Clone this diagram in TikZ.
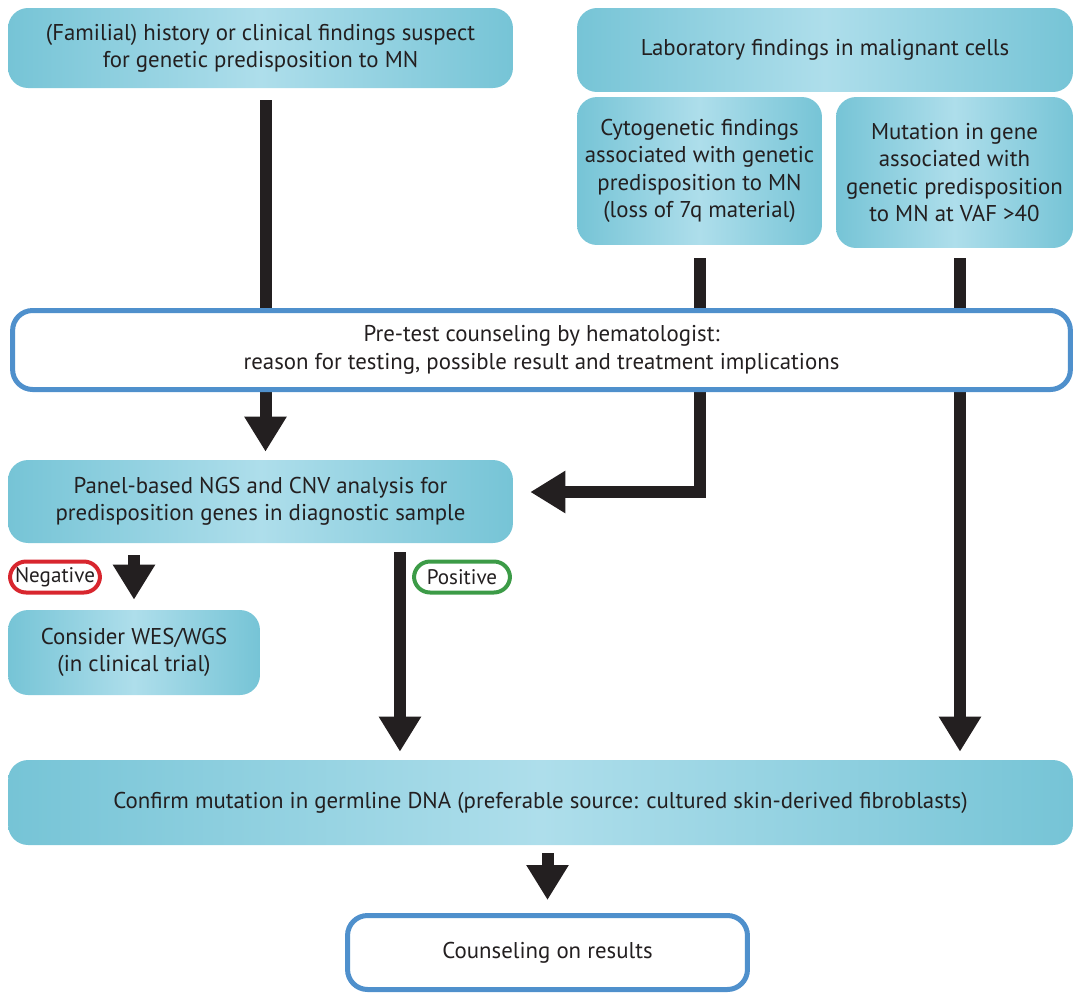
\documentclass[tikz,border=0pt]{standalone}
\usepackage{fontspec}
\setmainfont{PT Sans}
\usetikzlibrary{arrows.meta,backgrounds}

\definecolor{boxedge}{HTML}{76C4D6}
\definecolor{boxmid}{HTML}{AEDEEB}
\definecolor{frameblue}{HTML}{4F90CC}
\definecolor{arrowgray}{HTML}{231F20}
\definecolor{negred}{HTML}{D8262E}
\definecolor{posgreen}{HTML}{3C9B47}

\tikzset{
    cyanbox/.style={rounded corners=0.4cm, left color=boxedge, right color=boxedge, middle color=boxmid,
        align=center, inner sep=0pt, text=arrowgray, font=\fontsize{13}{15.6}\selectfont},
    framebox/.style={rounded corners=0.4cm, draw=frameblue, line width=0.1cm, fill=white,
        align=center, inner sep=0pt, text=arrowgray, font=\fontsize{13}{15.6}\selectfont},
    pill/.style={rounded corners=0.32cm, line width=0.08cm, fill=white, inner sep=0pt,
        minimum height=0.62cm, text=arrowgray, font=\fontsize{12}{14}\selectfont},
    arr/.style={line width=0.24cm, draw=arrowgray, -{Triangle[width=0.8cm,length=0.7cm]}},
}

\begin{document}
\begin{tikzpicture}[x=0.02cm,y=-0.02cm]

    \useasboundingbox (0,0) rectangle (1079,995);

    \node[cyanbox, minimum width=10.1cm, minimum height=1.6cm] (hist) at (260.5,48)
        {(Familial) history or clinical findings suspect\\for genetic predisposition to MN};
    \node[cyanbox, minimum width=9.92cm, minimum height=1.68cm] (lab) at (825,50)
        {Laboratory findings in malignant cells};
    \node[cyanbox, minimum width=4.9cm, minimum height=2.96cm] (cyto) at (699.5,171)
        {Cytogenetic findings\\associated with genetic\\predisposition to MN\\(loss of 7q material)};
    \node[cyanbox, minimum width=4.74cm, minimum height=3.02cm] (mut) at (954.5,172.5)
        {Mutation in gene\\associated with\\genetic predisposition\\to MN at VAF >40};

    \node[framebox, minimum width=21.16cm, minimum height=1.58cm] (pretest) at (541.5,350)
        {Pre-test counseling by hematologist:\\reason for testing, possible result and treatment implications};

    \node[cyanbox, minimum width=10.1cm, minimum height=1.66cm] (panel) at (260.5,501.5)
        {Panel-based NGS and CNV analysis for\\predisposition genes in diagnostic sample};
    \node[pill, draw=negred, minimum width=1.8cm] (neg) at (55,577) {Negative};
    \node[pill, draw=posgreen, minimum width=1.92cm] (pos) at (462,577) {Positive};
    \node[cyanbox, minimum width=5.04cm, minimum height=1.7cm] (wes) at (134,652.5)
        {Consider WES/WGS\\(in clinical trial)};

    \node[cyanbox, minimum width=21.3cm, minimum height=1.7cm] (germ) at (540.5,802.5)
        {Confirm mutation in germline DNA (preferable source: cultured skin-derived fibroblasts)};
    \node[framebox, minimum width=8cm, minimum height=1.48cm] (result) at (547.5,952.5)
        {Counseling on results};

    %arrows
    \begin{scope}[on background layer]
        \draw[arr, shorten <=0.24cm, shorten >=0.16cm] ([xshift=0.1cm]hist.south) -- ([xshift=0.1cm]panel.north);
        \draw[arr, shorten <=0.26cm, shorten >=0.34cm] (cyto.south) |- ([yshift=0.19cm]panel.east);
        \draw[arr, shorten <=0.2cm, shorten >=0.16cm] ([xshift=0.11cm]mut.south) -- ([xshift=0.11cm]mut.south |- germ.north);
        \draw[arr, shorten <=0.24cm, shorten >=0.2cm] (wes.north |- panel.south) -- (wes.north);
        \draw[arr, shorten <=0.18cm, shorten >=0.16cm] ([xshift=2.79cm]panel.south) -- ([xshift=2.79cm]panel.south |- germ.north);
        \draw[arr, shorten <=0.16cm, shorten >=0.26cm] (result.north |- germ.south) -- (result.north);
    \end{scope}

\end{tikzpicture}
\end{document}
